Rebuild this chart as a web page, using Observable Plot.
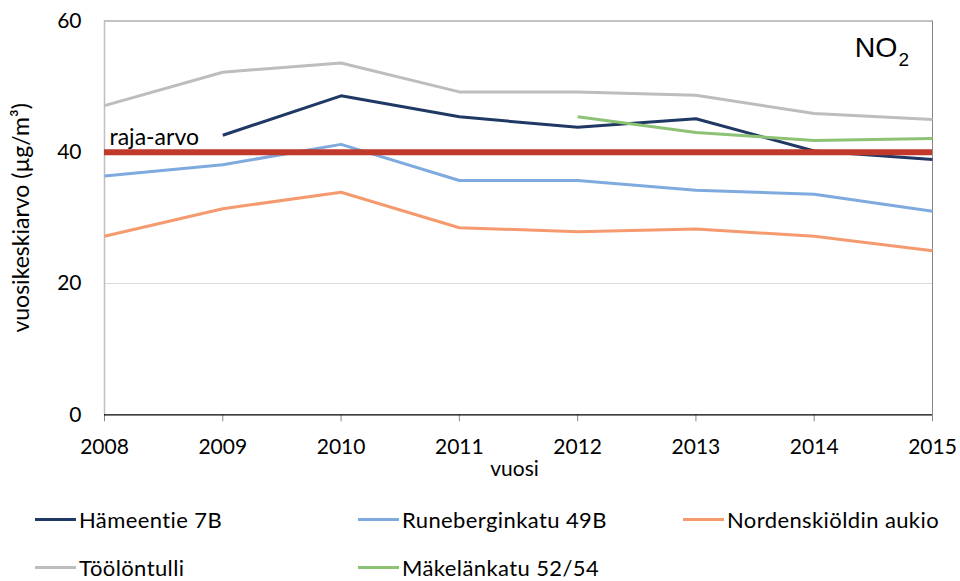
<!DOCTYPE html>
<html>
<head>
<meta charset="utf-8">
<script src="https://cdn.jsdelivr.net/npm/d3@7"></script>
<script src="https://cdn.jsdelivr.net/npm/@observablehq/plot@0.6"></script>
<style>
  html, body { margin: 0; padding: 0; background: #fff; }
  #wrap { position: relative; width: 960px; height: 581px; font-family: Lato, "Open Sans", sans-serif; }
  #legend { position: relative; width: 960px; height: 91px; }
  .item { position: absolute; display: flex; align-items: center; font-size: 22px; letter-spacing: 0.4px; color: #000; white-space: nowrap; }
  .sw { width: 41px; height: 3px; margin-right: 3px; }
</style>
</head>
<body>
<div id="wrap">
  <div id="chart"></div>
  <div id="legend"></div>
</div>
<script>
const years = [2008, 2009, 2010, 2011, 2012, 2013, 2014, 2015];
const seriesNames = ["Hämeentie 7B", "Runeberginkatu 49B", "Nordenskiöldin aukio", "Töölöntulli", "Mäkelänkatu 52/54"];
const seriesColors = ["#203864", "#7eaadf", "#f59a6f", "#bdbdbd", "#8dc275"];
const hameentie   = [null, 42.6, 48.6, 45.4, 43.8, 45.1, 40.2, 38.9];
const runeberg    = [36.4, 38.1, 41.2, 35.7, 35.7, 34.2, 33.6, 31.0];
const nordensk    = [27.2, 31.4, 33.9, 28.5, 27.9, 28.3, 27.2, 25.0];
const toolontulli = [47.1, 52.2, 53.6, 49.2, 49.2, 48.7, 45.9, 45.0];
const makelankatu = [null, null, null, null, 45.4, 43.0, 41.8, 42.1];
const limitValue = 40;
const limitLabel = "raja-arvo";
const yTicks = [0, 20, 40, 60];
const xLabel = "vuosi";
const yLabel = "vuosikeskiarvo (µg/m³)";

const seriesValues = [hameentie, runeberg, nordensk, toolontulli, makelankatu];
const rows = [];
seriesNames.forEach((name, i) => {
  seriesValues[i].forEach((v, j) => {
    if (v != null) rows.push({series: name, year: years[j], value: v});
  });
});

const font = "Lato, 'Open Sans', sans-serif";

const chart = Plot.plot({
  width: 960,
  height: 490,
  marginLeft: 104,
  marginRight: 28,
  marginTop: 20.5,
  marginBottom: 75.7,
  style: {fontFamily: font, fontSize: "21px", color: "#000", background: "#fff"},
  x: {domain: [years[0], years[years.length - 1]]},
  y: {domain: [yTicks[0], yTicks[yTicks.length - 1]]},
  color: {domain: seriesNames, range: seriesColors},
  marks: [
    Plot.ruleY([20, 40], {stroke: "#d9d9d9", strokeWidth: 1}),
    Plot.ruleY([60], {stroke: "#868686", strokeWidth: 1}),
    Plot.ruleX([years[years.length - 1]], {stroke: "#868686", strokeWidth: 1}),
    Plot.ruleX([years[0]], {stroke: "#bfbfbf", strokeWidth: 1.5}),
    Plot.axisX({ticks: years, tickFormat: d => String(d), tickSize: 7, tickPadding: 17, fontSize: 21, stroke: "#868686", fill: "#000", label: null}),
    Plot.axisY({ticks: yTicks, tickSize: 0, tickPadding: 23, fontSize: 21, fill: "#000", label: null}),
    Plot.ruleY([0], {stroke: "#000", strokeWidth: 1.2}),
    Plot.line(rows, {x: "year", y: "value", z: "series", stroke: "series", strokeWidth: 3, strokeLinejoin: "miter", strokeLinecap: "butt"}),
    Plot.ruleY([limitValue], {stroke: "#c0392b", strokeWidth: 6}),
    Plot.text([limitLabel], {x: years[0], y: limitValue, text: d => d, textAnchor: "start", dx: 5, dy: -15, fontSize: 23, fill: "#000", fontFamily: font}),
    Plot.text(["NO"], {frameAnchor: "top-right", text: d => d, textAnchor: "end", lineAnchor: "top", dx: -35, dy: 16, fontSize: 28.5, fill: "#000", fontFamily: "'Liberation Sans', Arial, sans-serif"}),
    Plot.text(["2"], {frameAnchor: "top-right", text: d => d, textAnchor: "start", lineAnchor: "top", dx: -34, dy: 31, fontSize: 19, fill: "#000", fontFamily: "'Liberation Sans', Arial, sans-serif"}),
    Plot.text([xLabel], {frameAnchor: "bottom", text: d => d, dx: -4, dy: 61, fontSize: 21, fill: "#000", fontFamily: font}),
    Plot.text([yLabel], {frameAnchor: "left", text: d => d, rotate: -90, textAnchor: "middle", lineAnchor: "middle", dx: -83, fontSize: 23, fill: "#000", fontFamily: font})
  ]
});
document.getElementById("chart").appendChild(chart);

// Legend (HTML, below the SVG)
const legendPos = [
  {left: 35, top: 29}, {left: 358, top: 29}, {left: 683, top: 29},
  {left: 35, top: 77}, {left: 358, top: 77}
];
const legend = document.getElementById("legend");
seriesNames.forEach((name, i) => {
  const item = document.createElement("div");
  item.className = "item";
  item.style.left = legendPos[i].left + "px";
  item.style.top = (legendPos[i].top - 14) + "px";
  item.style.height = "28px";
  const sw = document.createElement("span");
  sw.className = "sw";
  sw.style.background = seriesColors[i];
  const tx = document.createElement("span");
  tx.textContent = name;
  item.appendChild(sw);
  item.appendChild(tx);
  legend.appendChild(item);
});
</script>
</body>
</html>
